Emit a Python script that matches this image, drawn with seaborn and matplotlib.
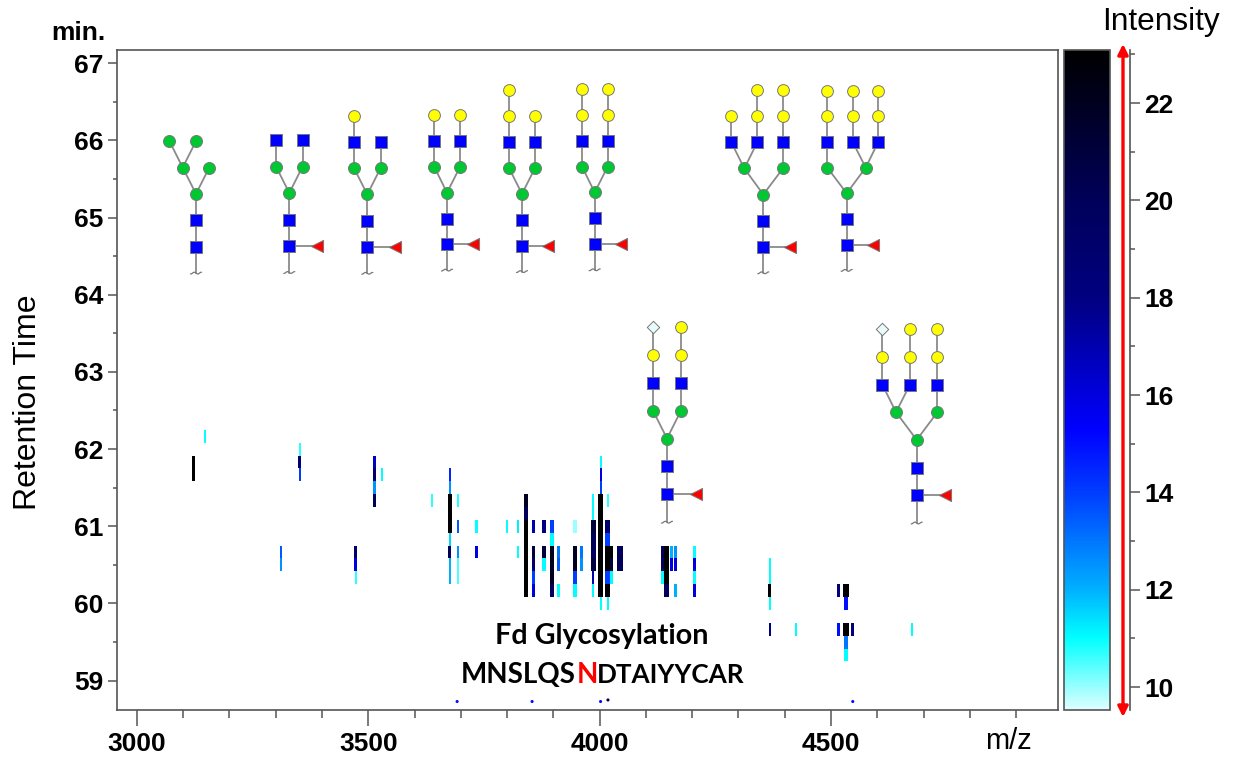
import matplotlib
matplotlib.use("Agg")
import matplotlib.pyplot as plt
from matplotlib.colors import LinearSegmentedColormap, Normalize
import numpy as np
import seaborn as sns

# peaks: one entry per m/z, width in grid bins
peak_mz = [3123, 3148, 3311, 3352, 3352, 3473, 3473, 3514, 3530, 3637,
           3676, 3676, 3676, 3676, 3693, 3734, 3799, 3823, 3840, 3856, 3856,
           3880, 3896, 3912, 3946, 3961, 3986, 3986, 4002, 4002, 4018, 4018, 4026, 4044,
           4137, 4145, 4155, 4164, 4206, 4368, 4368, 4424, 4516, 4516, 4532, 4532, 4547, 4676]
peak_bins = [3, 2, 2, 2, 3, 3, 2, 3, 2, 2,
             2, 4, 2, 3, 2, 3, 2, 2, 4, 3, 3,
             4, 4, 3, 4, 3, 2, 5, 2, 5, 2, 5, 3, 6,
             5, 5, 3, 3, 3, 2, 3, 2, 3, 3, 4, 6, 3, 2]
peak_rt = [
    [61.833, 61.667], [62.167], [60.667, 60.5], [62.0, 61.667], [61.833],
    [60.667, 60.5], [60.333], [61.833, 61.667, 61.5, 61.333], [61.667], [61.333],
    [61.667, 61.5], [61.333, 61.167, 61.0], [60.833, 60.5, 60.333], [60.667],
    [61.333, 61.0, 60.667, 60.5, 60.333], [61.0, 60.667], [61.0], [61.0, 60.667],
    [61.333, 61.167, 61.0, 60.833, 60.667, 60.5, 60.333, 60.167],
    [61.0, 60.333, 60.167], [60.667, 60.5],
    [61.0, 60.667, 60.5], [61.0, 60.833, 60.667, 60.5, 60.333, 60.167],
    [60.667, 60.5, 60.167], [61.0, 60.667, 60.5, 60.333, 60.167], [60.667, 60.5],
    [61.333, 61.167, 60.333, 60.167], [61.0, 60.833, 60.667, 60.5],
    [61.833, 61.667, 61.5, 60.0], [61.333, 61.167, 61.0, 60.833, 60.667, 60.5, 60.333, 60.167],
    [61.333, 60.0], [61.0, 60.833, 60.667, 60.5, 60.333, 60.167],
    [60.667, 60.5, 60.333], [60.667, 60.5],
    [60.667, 60.5, 60.333], [60.667, 60.5, 60.333, 60.167], [60.667, 60.5],
    [60.667, 60.5, 60.167], [60.667, 60.5, 60.333, 60.167],
    [60.5, 60.333, 60.0, 59.667], [60.167], [59.667], [60.167], [59.667],
    [60.0, 59.5, 59.333], [60.167, 59.667], [59.667], [59.667],
]
peak_int = [
    [23, 23], [11], [13.5, 12.5], [10.7, 14], [19],
    [19, 16], [10.7], [16.5, 19, 12.5, 20], [11], [10.7],
    [14.5, 12.5], [23, 23, 23], [11.5, 12, 12], [20],
    [10.8, 13.5, 12.5, 10.5, 10.5], [11, 16], [11], [11.2, 11],
    [22, 20, 23, 23, 23, 23, 23, 23],
    [17, 14, 16], [21, 19],
    [18, 21, 11], [14, 11, 22, 22, 22, 20],
    [13, 13.5, 11], [10, 22, 22, 14, 11], [13, 12.5],
    [11, 11, 17, 11], [21, 20, 20, 21],
    [11, 16, 14, 11], [23, 23, 23, 23, 23, 23, 23, 23],
    [10.7, 11], [19, 14, 23, 23, 14, 23],
    [23, 21, 11], [20, 20],
    [20, 20, 11], [23, 23, 23, 20], [12, 16],
    [12.5, 16, 12], [11, 16, 11, 16],
    [11, 11, 11, 18], [23], [11], [18], [15],
    [15, 13, 11], [23, 23], [18], [11],
]

# faint dots cut off near the bottom edge
dot_mz = [3692, 3854, 4002, 4018, 4547]
dot_rt = [58.73, 58.73, 58.73, 58.75, 58.73]
dot_int = [15, 15, 15, 21, 15]

xticks_major = [3000, 3500, 4000, 4500]
xticks_minor = [3100, 3200, 3300, 3400, 3600, 3700, 3800, 3900, 4100, 4200, 4300, 4400,
                4600, 4700, 4800, 4900]
yticks_major = [59, 60, 61, 62, 63, 64, 65, 66, 67]
yticks_minor = [59.5, 60.5, 61.5, 62.5, 63.5, 64.5, 65.5, 66.5]
cticks_major = [10, 12, 14, 16, 18, 20, 22]
cticks_minor = [11, 13, 15, 17, 19, 21, 23]

color_stops = [(9.53, "#DDFFFF"), (11, "#00FFFF"), (12, "#00B0FF"), (14, "#003CFF"),
               (15.3, "#0000FF"), (18, "#000080"), (20, "#00005A"), (23.09, "#000000")]

# glycan cartoons: root position, level spacing, fucose offset, mannose arms with antennae
glycan_root = [(196, 246.7), (289.3, 246), (367.3, 247), (447, 244.3), (522, 245.7),
               (594.7, 244), (763.3, 246.7), (846.7, 244.7), (667, 494.3), (916.7, 495.3)]
glycan_step = [26.4, 26.5, 26.3, 25.8, 25.9, 25.8, 26.1, 25.7, 27.9, 27.7]
glycan_fuc = [None, 27.4, 27.4, 26, 26.3, 26.3, 26.7, 26, 29, 28.3]
glycan_arms = [
    [(-13.3, [(-26.6, "M"), (0, "M")]), (13.3, [])],
    [(-13.3, [(-13.3, "N")]), (13.3, [(13.3, "N")])],
    [(-13.3, [(-13.3, "NG")]), (13.3, [(13.3, "N")])],
    [(-12.7, [(-12.7, "NG")]), (13, [(13, "NG")])],
    [(-13, [(-13, "NGG")]), (13, [(13, "NG")])],
    [(-12.7, [(-12.7, "NGG")]), (13, [(13, "NGG")])],
    [(-19, [(-32, "NG"), (-6, "NGG")]), (19.7, [(19.7, "NGG")])],
    [(-19.4, [(-19.4, "NGG")]), (19, [(6, "NGG"), (31.6, "NGG")])],
    [(-14, [(-14, "NGD")]), (14, [(14, "NGG")])],
    [(-20.7, [(-34.4, "NGD"), (-6.7, "NGG")]), (20.7, [(20.7, "NGG")])],
]

W, H = 1233, 761
X0, X_STEP = 2957.0, 2.161
RT_TOP, RT_STEP = 67.25, 1 / 6


def mz_to_col(mz):
    return (np.asarray(mz, dtype=float) - X0) / X_STEP


def rt_to_row(rt):
    return (RT_TOP - np.asarray(rt, dtype=float)) / RT_STEP


def box(left, top, right, bottom):
    return [left / W, 1 - bottom / H, (right - left) / W, (bottom - top) / H]


grid = np.full((52, 941), np.nan)
for mz, bins, rts, vals in zip(peak_mz, peak_bins, peak_rt, peak_int):
    start = int(round(mz_to_col(mz) - bins / 2))
    for rt, val in zip(rts, vals):
        row = int(np.floor(rt_to_row(rt)))
        grid[row, start:start + bins] = np.fmax(grid[row, start:start + bins], val)

vmin, vmax = color_stops[0][0], color_stops[-1][0]
cmap = LinearSegmentedColormap.from_list(
    "intensity", [((v - vmin) / (vmax - vmin), c) for v, c in color_stops], N=512
)

sns.set_theme(style="ticks")
plt.rcParams["font.family"] = ["Liberation Sans", "DejaVu Sans"]
plt.rcParams["text.color"] = "black"
EDGE = "#555555"

fig = plt.figure(figsize=(W / 100, H / 100), dpi=100, facecolor="white")
ax = fig.add_axes(box(117, 50, 1058, 710))
cax = fig.add_axes(box(1064, 50, 1110, 710))

sns.heatmap(grid, mask=np.isnan(grid), cmap=cmap, vmin=vmin, vmax=vmax, ax=ax, cbar_ax=cax,
            xticklabels=False, yticklabels=False)
sns.scatterplot(x=mz_to_col(dot_mz), y=rt_to_row(dot_rt), hue=dot_int, palette=cmap,
                hue_norm=Normalize(vmin, vmax), s=5, linewidth=0, legend=False, ax=ax)

ax.set_xlim(0, 941)
ax.set_ylim(rt_to_row(58.62), rt_to_row(67.17))
for spine in ax.spines.values():
    spine.set_visible(True)
    spine.set_color(EDGE)
    spine.set_linewidth(1.2)

ax.set_xticks(mz_to_col(xticks_major))
ax.set_xticklabels(xticks_major, fontsize=19, fontweight="bold", color="black")
ax.set_xticks(mz_to_col(xticks_minor), minor=True)
ax.set_yticks(rt_to_row(yticks_major))
ax.set_yticklabels(yticks_major, fontsize=19, fontweight="bold", color="black")
ax.set_yticks(rt_to_row(yticks_minor), minor=True)
ax.tick_params(axis="x", which="major", length=11.5, width=1.1, color=EDGE, pad=4, bottom=True)
ax.tick_params(axis="x", which="minor", length=5.8, width=1.1, color=EDGE, bottom=True)
ax.tick_params(axis="y", which="major", length=6.5, width=1.1, color=EDGE, pad=3, left=True, labelrotation=0)
ax.tick_params(axis="y", which="minor", length=3, width=1.1, color=EDGE, left=True)

cbar = ax.collections[0].colorbar
cbar.outline.set_visible(True)
cbar.outline.set_edgecolor(EDGE)
cbar.outline.set_linewidth(1.2)
cax.yaxis.set_ticks_position("right")
cax.spines["right"].set_visible(True)
cax.spines["right"].set_position(("outward", 14.4))
cax.spines["right"].set_color(EDGE)
cax.spines["right"].set_linewidth(1.2)
cax.set_yticks(cticks_major)
cax.set_yticklabels(cticks_major, fontsize=19, fontweight="bold", color="black")
cax.set_yticks(cticks_minor, minor=True)
cax.tick_params(axis="y", which="major", length=7.2, width=1.1, color=EDGE, pad=3)
cax.tick_params(axis="y", which="minor", length=3.6, width=1.1, color=EDGE)

# overlay in pixel coordinates for the cartoons and free text
ov = fig.add_axes([0, 0, 1, 1], facecolor="none")
ov.set_xlim(0, W)
ov.set_ylim(H, 0)
ov.axis("off")

SYMBOLS = {
    "N": dict(marker="s", c="#0000FF", s=70),
    "G": dict(marker="o", c="#FFFF00", s=72),
    "M": dict(marker="o", c="#00C832", s=74),
    "D": dict(marker="D", c="#EAFBFB", s=40),
    "F": dict(marker="<", c="#FF0000", s=76),
}
LINK = dict(color="#8a8a8a", lw=1.3, zorder=2, solid_capstyle="round")


def node(x, y, kind):
    ov.scatter([x], [y], edgecolors="#777777", linewidths=0.7, zorder=3, **SYMBOLS[kind])


def draw_glycan(root, step, fuc, arms):
    x, y = root
    ov.plot([x, x], [y, y + step], **LINK)
    wave = np.linspace(-5.5, 5.5, 13)
    ov.plot(x + wave, y + step + 0.9 * np.sin(wave * 0.9), color="#777777", lw=0.9, zorder=2)
    ov.plot([x, x], [y, y - 2 * step], **LINK)
    node(x, y, "N")
    node(x, y - step, "N")
    node(x, y - 2 * step, "M")
    if fuc is not None:
        ov.plot([x, x + fuc], [y, y], **LINK)
        node(x + fuc, y, "F")
    for man_dx, antennae in arms:
        ov.plot([x, x + man_dx], [y - 2 * step, y - 3 * step], **LINK)
        node(x + man_dx, y - 3 * step, "M")
        for ant_dx, residues in antennae:
            level = 4
            px, py = x + man_dx, y - 3 * step
            for res in residues:
                qx, qy = x + ant_dx, y - level * step
                ov.plot([px, qx], [py, qy], **LINK)
                node(qx, qy, res)
                px, py = qx, qy
                level += 1


for root, step, fuc, arms in zip(glycan_root, glycan_step, glycan_fuc, glycan_arms):
    draw_glycan(root, step, fuc, arms)

ov.annotate("", xy=(1123, 717), xytext=(1123, 44),
            arrowprops=dict(arrowstyle="<|-|>", color="#FF0000", lw=2.4, shrinkA=0, shrinkB=0,
                            mutation_scale=15))

ov.text(78, 33, "min.", fontsize=19, fontweight="bold", ha="center", va="center")
ov.text(1161, 22, "Intensity", fontsize=22.8, ha="center", va="center")
ov.text(28, 402, "Retention Time", fontsize=23, rotation=90, ha="center", va="center")
ov.text(1008, 741, "m/z", fontsize=21, ha="center", va="center")

ov.text(602, 636, "Fd Glycosylation", family="Lato", fontsize=20.7, fontweight="bold",
        ha="center", va="center")
seq_style = dict(family="Lato", fontweight="bold", va="baseline")
ov.text(461, 683, "MNSLQS", fontsize=20, **seq_style)
ov.text(577, 683, "N", fontsize=20, color="#FF0000", **seq_style)
ov.text(597, 683, "DTAIYYCAR", fontsize=18.8, **seq_style)

fig.savefig("out.png", dpi=100, facecolor="white")
